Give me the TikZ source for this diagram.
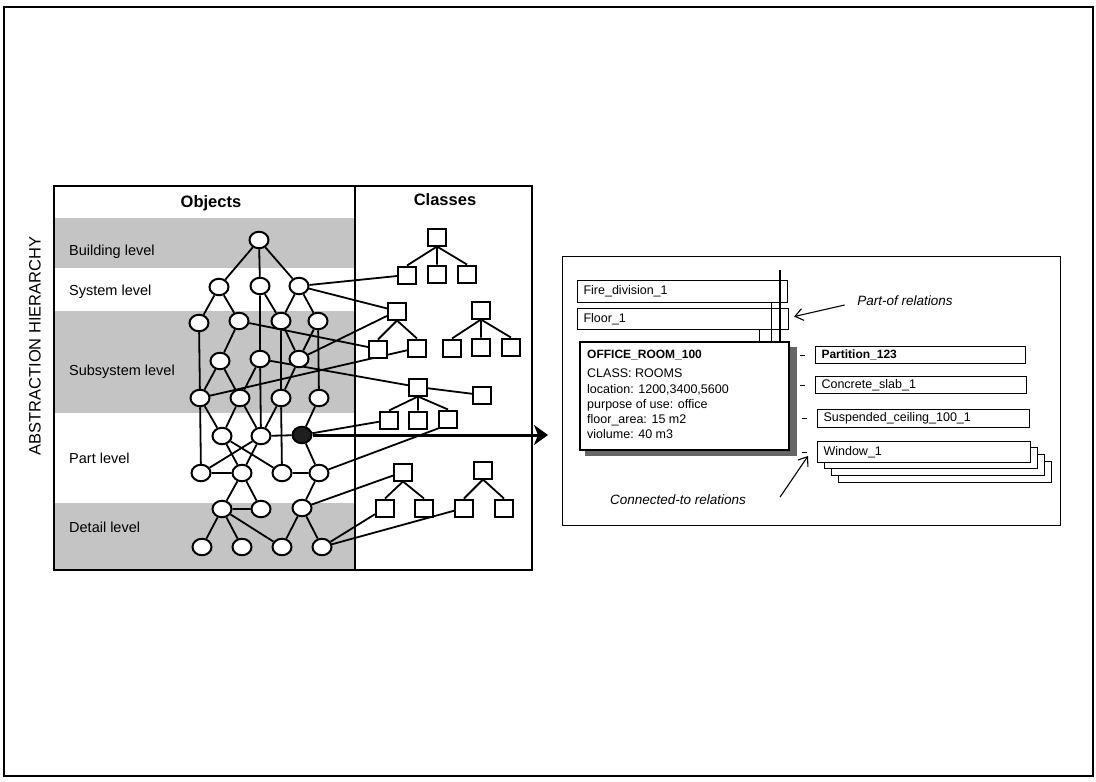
\documentclass[tikz,border=0pt]{standalone}
\usepackage{fontspec}
\setmainfont{Liberation Sans}
\usetikzlibrary{shapes.geometric,arrows.meta,backgrounds}
\begin{document}
\begin{tikzpicture}[x=1pt,y=-1pt,
  obj/.style={ellipse,draw,line width=2pt,fill=white,minimum width=19pt,minimum height=16.5pt,inner sep=0pt},
  objsel/.style={obj,fill=black!88},
  cls/.style={rectangle,draw,line width=2pt,fill=white,minimum width=18pt,minimum height=17pt,inner sep=0pt},
  link/.style={line width=1.8pt},
  band/.style={fill=black!23},
  lvl/.style={anchor=base west,inner sep=0pt,font=\fontsize{14.5}{16}\selectfont},
  head/.style={font=\bfseries\fontsize{16.5}{18}\selectfont},
  tag/.style={draw,fill=white,line width=1.1pt,inner xsep=6pt,inner ysep=0pt,align=left,anchor=north west,font=\fontsize{12.5}{14}\selectfont},
  attr/.style={anchor=base west,inner sep=0pt,font=\fontsize{12.5}{14}\selectfont},
  note/.style={inner sep=0pt,font=\itshape\fontsize{13.5}{15}\selectfont},
  thin/.style={line width=1.1pt},
  barb/.style={line width=1.1pt,-{Straight Barb[length=8pt,width=12pt]}},
  bigarrow/.style={line width=3pt,-{Stealth[length=14pt,width=20pt,inset=4pt]}},
]
\useasboundingbox (0,0) rectangle (1096,782);
\draw[line width=1.2pt] (4,7) rectangle (1093,776);

% shaded level bands of the object column
\begin{scope}[on background layer]
  \fill[band] (54,218) rectangle (355,268);
  \fill[band] (54,311) rectangle (355,413);
  \fill[band] (54,503) rectangle (355,570);
\end{scope}

% frame of the objects / classes chart
\draw[line width=1.6pt] (54,186) rectangle (532,570);
\draw[line width=1.6pt] (355,186) -- (355,570);
\node[head] (objhead) at (211,203) {Objects};
\node[head] (clshead) at (445,200) {Classes};

\node[rotate=90,font=\fontsize{16.5}{18}\selectfont] (axis) at (35,346) {ABSTRACTION HIERARCHY};

\node[lvl] (lbuild) at (69,255) {Building level};
\node[lvl] (lsys) at (69,295) {System level};
\node[lvl] (lsub) at (69,375) {Subsystem level};
\node[lvl] (lpart) at (69,463) {Part level};
\node[lvl] (ldet) at (69,532) {Detail level};

% object instances
\node[obj] (R) at (259,240) {};
\node[obj] (S1) at (219,287) {};
\node[obj] (S2) at (260,286) {};
\node[obj] (S3) at (299,286) {};
\node[obj] (A1) at (199,323) {};
\node[obj] (A2) at (239,321) {};
\node[obj] (A3) at (281,321) {};
\node[obj] (A4) at (318,321) {};
\node[obj] (B1) at (220,361) {};
\node[obj] (B2) at (260,359) {};
\node[obj] (B3) at (299,359) {};
\node[obj] (C1) at (200,398) {};
\node[obj] (C2) at (240,398) {};
\node[obj] (C3) at (281,398) {};
\node[obj] (C4) at (319,398) {};
\node[obj] (P1) at (222,436) {};
\node[obj] (P2) at (261,436) {};
\node[objsel] (P3) at (302,435) {};
\node[obj] (Q1) at (201,473) {};
\node[obj] (Q2) at (242,473) {};
\node[obj] (Q3) at (282,473) {};
\node[obj] (Q4) at (319,473) {};
\node[obj] (E1) at (222,509) {};
\node[obj] (E2) at (261,509) {};
\node[obj] (E3) at (302,508) {};
\node[obj] (F1) at (202,547) {};
\node[obj] (F2) at (242,547) {};
\node[obj] (F3) at (282,547) {};
\node[obj] (F4) at (322,547) {};

% class trees
\node[cls] (T1r) at (437,237) {};
\node[cls] (T1a) at (407,275) {};
\node[cls] (T1b) at (437,274) {};
\node[cls] (T1c) at (467,274) {};
\node[cls] (T2r) at (397,311) {};
\node[cls] (T2a) at (378,349) {};
\node[cls] (T2b) at (417,348) {};
\node[cls] (T3r) at (481,310) {};
\node[cls] (T3a) at (452,348) {};
\node[cls] (T3b) at (481,347) {};
\node[cls] (T3c) at (511,347) {};
\node[cls] (T4r) at (418,387) {};
\node[cls] (T4x) at (482,395) {};
\node[cls] (T4a) at (389,420) {};
\node[cls] (T4b) at (418,420) {};
\node[cls] (T4c) at (448,419) {};
\node[cls] (T5r) at (403,472) {};
\node[cls] (T5a) at (385,508) {};
\node[cls] (T5b) at (424,508) {};
\node[cls] (T6r) at (483,470) {};
\node[cls] (T6a) at (464,508) {};
\node[cls] (T6b) at (504,508) {};

\draw[link] (T1r.south) -- (T1a.north) (T1r.south) -- (T1b.north) (T1r.south) -- (T1c.north)
  (T2r.south) -- (T2a.north) (T2r.south) -- (T2b.north)
  (T3r.south) -- (T3a.north) (T3r.south) -- (T3b.north) (T3r.south) -- (T3c.north)
  (T4r.south) -- (T4a.north) (T4r.south) -- (T4b.north) (T4r.south) -- (T4c.north)
  (T4r) -- (T4x)
  (T5r.south) -- (T5a.north) (T5r.south) -- (T5b.north)
  (T6r.south) -- (T6a.north) (T6r.south) -- (T6b.north);

% links between objects, and from objects to their classes
\begin{scope}[on background layer]
  \draw[link] (R) -- (S1) (R) -- (S2) (R) -- (S3)
    (S1) -- (A1) (S1) -- (A2)
    (S2) -- (B2) (S2) -- (A3)
    (S3) -- (A3) (S3) -- (A4)
    (A1) -- (C1) (A2) -- (B1) (A3) -- (B3) (A3) -- (C3) (A4) -- (B3) (A4) -- (C4)
    (B1) -- (C1) (B1) -- (C2) (B2) -- (C2) (B2) -- (P2) (B3) -- (C3)
    (C1) -- (P1) (C1) -- (Q1) (C2) -- (P1) (C2) -- (P2) (C3) -- (P2) (C3) -- (Q3) (C4) -- (P3)
    (P1) -- (Q2) (P1) -- (Q3) (P2) -- (Q1) (P2) -- (Q2) (P2) -- (P3) (P3) -- (Q4)
    (Q1) -- (Q2) (Q3) -- (Q4) (Q2) -- (E1) (Q2) -- (E2) (Q4) -- (E3)
    (E1) -- (E2) (E1) -- (F1) (E1) -- (F2) (E1) -- (F3) (E3) -- (F3) (E3) -- (F4);
  \draw[link] (S3) -- (T1a) (S3) -- (T2r) (A2) -- (T2a) (B3) -- (T2r) (C1) -- (T2b)
    (B2) -- (T4r) (P3) -- (T4a) (Q4) -- (T4c.south west) (E3) -- (T5r)
    (F4) -- (T5a) (F4) -- (T6a);
\end{scope}

% detail view of the selected object
\node[draw,line width=1.1pt,minimum width=498pt,minimum height=269pt,inner sep=0pt,anchor=north west] (detail) at (562,256) {};
\begin{scope}[on background layer]
  \draw[bigarrow,shorten >=14pt] (P3) -- (P3 -| detail.west);
\end{scope}

\node[tag,text width=198pt,minimum height=22pt] (fire) at (577,280) {Fire\_division\_1};
\node[tag,text width=199pt,minimum height=21pt] (floor) at (577,308) {Floor\_1};

\fill[black!60] (585,347) rectangle (797,456);
\node[draw,fill=white,line width=2pt,minimum width=209pt,minimum height=108pt,inner sep=0pt,anchor=north west] (office) at (579,341) {};
\node[attr,font=\bfseries\fontsize{12}{14}\selectfont] (oname) at (587,358) {OFFICE\_ROOM\_100};
\node[attr] (oclass) at (587,377) {CLASS: ROOMS};
\node[attr] (oloc) at (587,393) {location: 1200,3400,5600};
\node[attr] (ouse) at (587,408) {purpose of use: office};
\node[attr] (oarea) at (587,423.5) {floor\_area: 15 m2};
\node[attr] (ovol) at (587,438.5) {violume: 40 m3};

% part-of links upwards
\coordinate (lnk1) at ([xshift=76.5pt]floor.south);
\coordinate (lnk2) at ([xshift=89pt]fire.south);
\coordinate (ptop) at (780,270);
\draw[thin] (lnk1) -- (lnk1 |- office.north);
\draw[thin] (lnk2) -- (lnk2 |- office.north);
\draw[thin] (ptop) -- (ptop |- office.north);

% connected objects
\node[tag,text width=198pt,minimum height=17pt,font=\bfseries\fontsize{12}{14}\selectfont] (partition) at (815,346) {Partition\_123};
\node[tag,text width=199pt,minimum height=17pt] (slab) at (815,376) {Concrete\_slab\_1};
\node[tag,text width=200pt,minimum height=18pt] (ceiling) at (817,409) {Suspended\_ceiling\_100\_1};
\node[tag,text width=201pt,minimum height=21pt] (win3) at (838,461) {};
\node[tag,text width=201pt,minimum height=21pt] (win2) at (831,454) {};
\node[tag,text width=201pt,minimum height=21pt] (win1) at (824,447) {};
\node[tag,text width=201pt,minimum height=21pt] (window) at (817,441) {Window\_1};

\foreach \t in {partition,slab,ceiling,window}
  \draw[thin] ([xshift=-15pt]\t.west) -- ([xshift=-10pt]\t.west);

\node[note] (partof) at (905,301) {Part-of relations};
\draw[barb] ([xshift=-12.5pt,yshift=-4pt]partof.west) -- ([xshift=5pt,yshift=2.5pt]floor.east);

\node[note] (connto) at (678,500) {Connected-to relations};
\coordinate (ctip) at (808,456);
\draw[barb] ([xshift=34pt,yshift=3pt]connto.east) -- (ctip);
\end{tikzpicture}
\end{document}
